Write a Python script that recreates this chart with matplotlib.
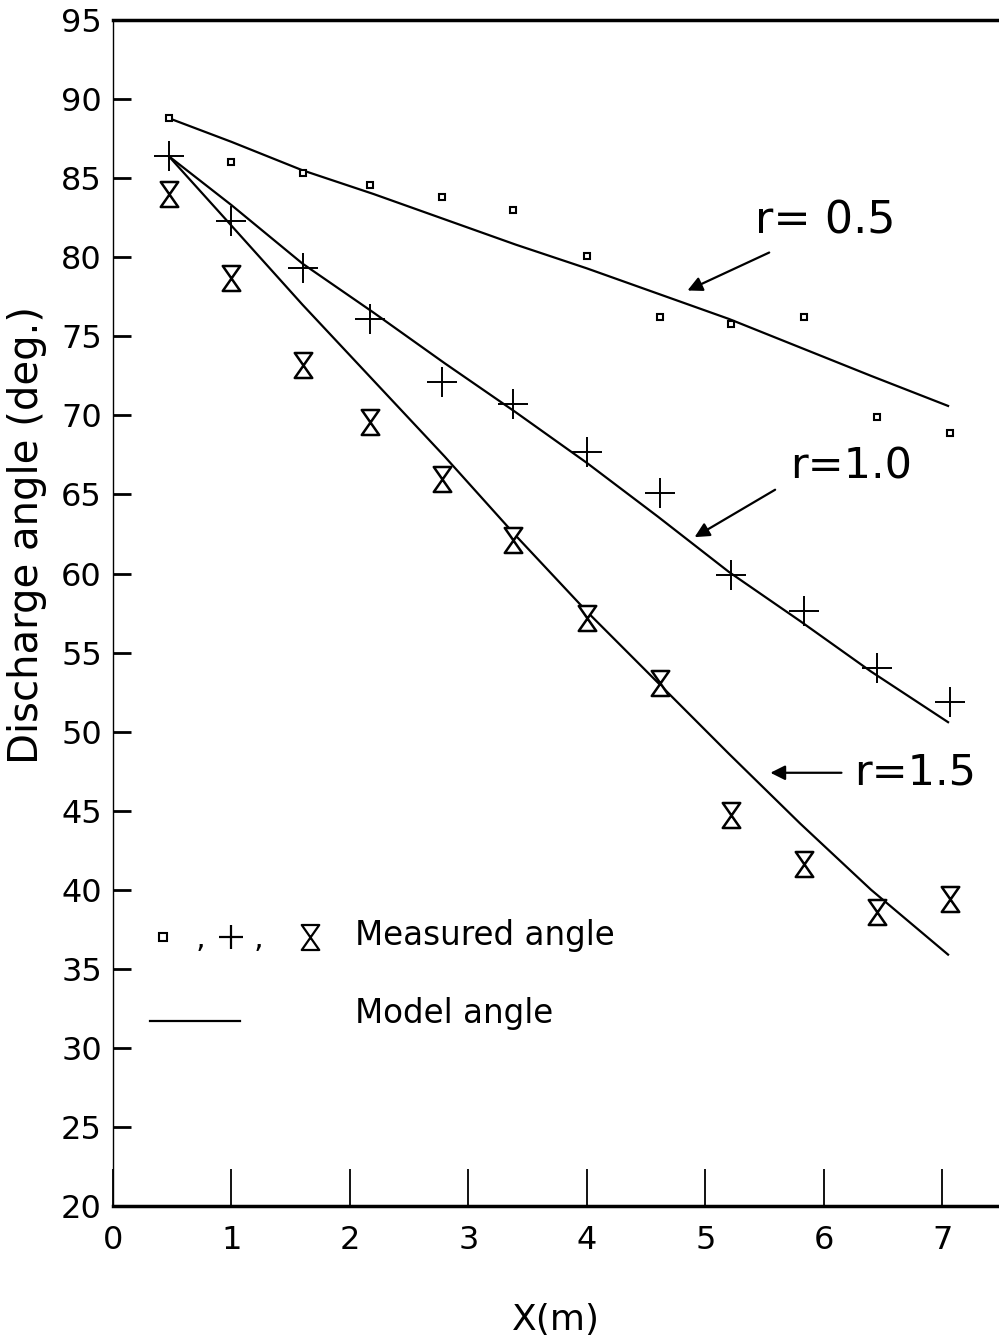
import matplotlib
matplotlib.use('Agg')
import matplotlib.pyplot as plt
from matplotlib.path import Path

# measurement positions along the channel (m)
x_meas = [0.47, 1.0, 1.6, 2.17, 2.78, 3.38, 4.0, 4.62, 5.22, 5.83, 6.45, 7.07]

# measured discharge angles (deg.)
meas_r05 = [88.8, 86.0, 85.3, 84.6, 83.8, 83.0, 80.1, 76.2, 75.8, 76.2, 69.9, 68.9]
meas_r10 = [86.4, 82.3, 79.3, 76.1, 72.1, 70.7, 67.7, 65.1, 59.9, 57.6, 54.0, 51.9]
meas_r15 = [84.0, 78.7, 73.2, 69.6, 66.0, 62.1, 57.2, 53.1, 44.7, 41.6, 38.6, 39.4]

# model curves
x_model = [0.47, 1.0, 1.6, 2.2, 2.8, 3.4, 4.0, 4.6, 5.2, 5.8, 6.4, 7.05]
model_r05 = [88.8, 87.3, 85.5, 84.0, 82.4, 80.8, 79.3, 77.7, 76.1, 74.3, 72.5, 70.6]
model_r10 = [86.4, 83.3, 79.6, 76.5, 73.3, 70.2, 67.0, 63.6, 60.1, 57.0, 53.8, 50.6]
model_r15 = [86.4, 82.0, 77.0, 72.2, 67.4, 62.4, 57.6, 53.1, 48.6, 44.2, 40.0, 35.9]

xticks = [0, 1, 2, 3, 4, 5, 6, 7]
yticks = list(range(20, 96, 5))

# hourglass marker (taller than wide)
hourglass = Path([(-0.7, 1), (0.7, 1), (-0.7, -1), (0.7, -1), (-0.7, 1)],
                 [Path.MOVETO, Path.LINETO, Path.LINETO, Path.LINETO, Path.CLOSEPOLY])

fnt = ['DejaVu Sans']

fig = plt.figure(figsize=(9.99, 13.39), dpi=100)
ax = fig.add_axes([0.1131, 0.0993, 0.8869, 0.8857])

ax.plot(x_model, model_r05, color='black', lw=1.6)
ax.plot(x_model, model_r10, color='black', lw=1.6)
ax.plot(x_model, model_r15, color='black', lw=1.6)

ax.plot(x_meas, meas_r05, ls='none', marker='s', ms=5, mfc='white', mec='black', mew=1.5)
ax.plot(x_meas, meas_r10, ls='none', marker='+', ms=22, mec='black', mew=1.4)
ax.plot(x_meas, meas_r15, ls='none', marker=hourglass, ms=18, mfc='white', mec='black', mew=1.8)

# curve labels with arrows
arrow = dict(arrowstyle='-|>', color='black', lw=1.6, mutation_scale=22, shrinkA=0, shrinkB=0)
ax.annotate('', xy=(4.85, 77.9), xytext=(5.54, 80.3), arrowprops=arrow)
ax.text(6.01, 82.3, 'r= 0.5', fontsize=32, family=fnt, ha='center', va='center')
ax.annotate('', xy=(4.91, 62.3), xytext=(5.59, 65.3), arrowprops=arrow)
ax.text(6.23, 66.8, 'r=1.0', fontsize=31, family=fnt, ha='center', va='center')
ax.annotate('', xy=(5.55, 47.4), xytext=(6.15, 47.4), arrowprops=arrow)
ax.text(6.77, 47.4, 'r=1.5', fontsize=31, family=fnt, ha='center', va='center')

# hand-made legend
ax.plot([0.42], [37.0], ls='none', marker='s', ms=6, mfc='white', mec='black', mew=1.5)
ax.text(0.74, 36.9, ',', fontsize=22, family=fnt, ha='center', va='center')
ax.plot([1.0], [37.0], ls='none', marker='+', ms=17, mec='black', mew=1.6)
ax.text(1.23, 36.9, ',', fontsize=22, family=fnt, ha='center', va='center')
ax.plot([1.66], [37.0], ls='none', marker=hourglass, ms=18, mfc='white', mec='black', mew=1.6)
ax.text(2.04, 37.1, 'Measured angle', fontsize=23.5, family=fnt, ha='left', va='center')
ax.plot([0.31, 1.07], [31.7, 31.7], color='black', lw=1.6)
ax.text(2.04, 32.2, 'Model angle', fontsize=23.5, family=fnt, ha='left', va='center')

ax.set_xlim(0, 7.48)
ax.set_ylim(20, 95)
ax.set_xticks(xticks)
ax.set_yticks(yticks)
ax.tick_params(axis='x', direction='in', length=27, width=1.3, pad=14, labelsize=23)
ax.tick_params(axis='y', direction='in', length=13, width=2, pad=8, labelsize=23)
for lab in ax.get_xticklabels() + ax.get_yticklabels():
    lab.set_family(fnt)

ax.spines['right'].set_visible(False)
ax.spines['top'].set_linewidth(2.5)
ax.spines['bottom'].set_linewidth(2.5)
ax.spines['left'].set_linewidth(1.0)

ax.set_xlabel('X(m)', fontsize=26, family=fnt)
ax.set_ylabel('Discharge angle (deg.)', fontsize=29, family=fnt)
ax.xaxis.set_label_coords(0.5, -0.096)
ax.yaxis.set_label_coords(-0.097, 0.566)
ax.xaxis.label.set_va('center')
ax.yaxis.label.set_va('center')

fig.savefig('out.png', dpi=100)
